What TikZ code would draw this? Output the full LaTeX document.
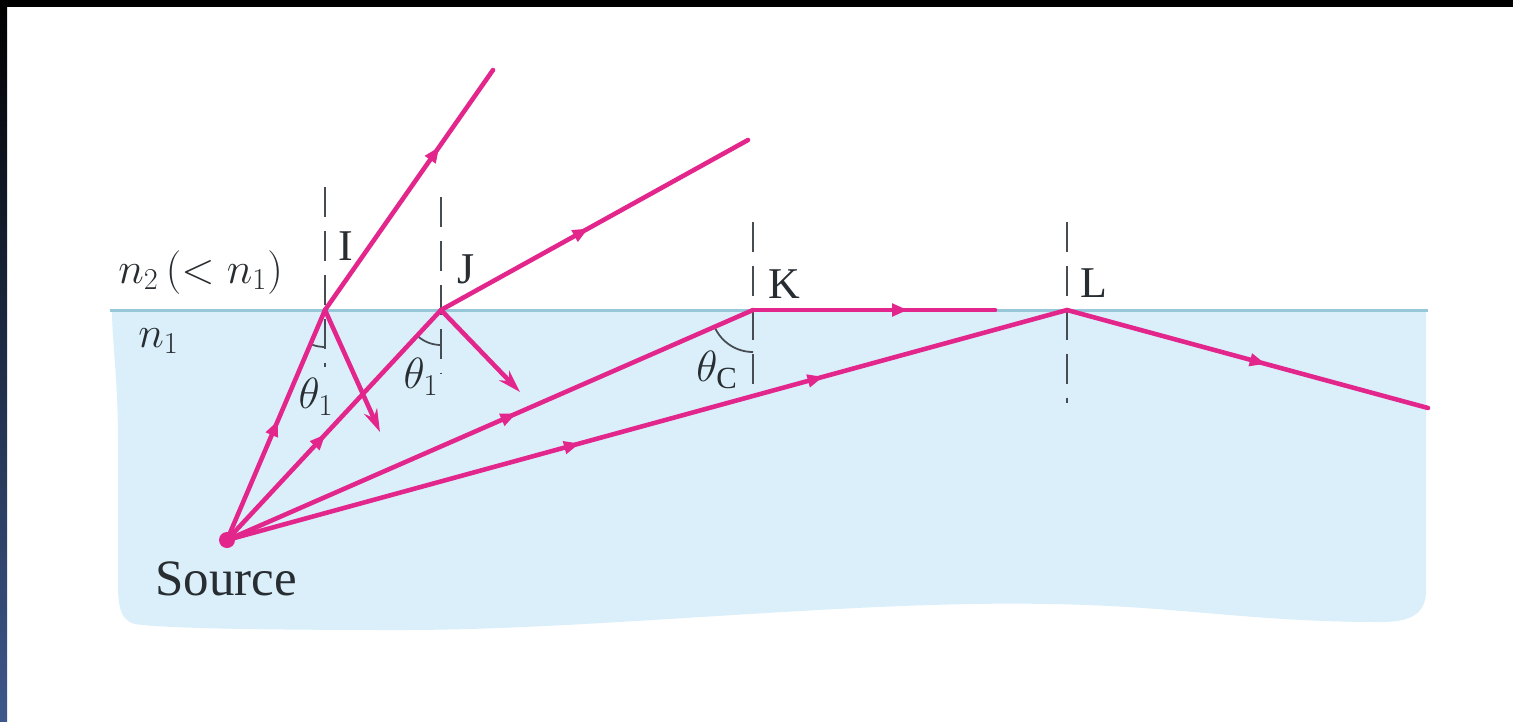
\documentclass[tikz,border=0pt]{standalone}
\usepackage{fontspec}
\setmainfont{Liberation Serif}
\newfontfamily\lblfont{Liberation Serif}
\usetikzlibrary{arrows.meta,decorations.markings,positioning}
\definecolor{raypink}{RGB}{226,38,140}
\definecolor{water}{RGB}{218,239,250}
\definecolor{surf}{RGB}{150,200,218}
\definecolor{normgray}{RGB}{70,76,82}
\definecolor{inkgray}{RGB}{40,45,50}
\definecolor{edgeblue}{RGB}{62,88,140}

\begin{document}
\begin{tikzpicture}[
        x=0.02cm, y=-0.02cm,
        every node/.style={font=\lblfont\fontsize{25}{30}\selectfont, text=inkgray, inner sep=0pt},
        ray/.style={draw=raypink, line width=2.6pt, line cap=round},
        mid/.style={postaction={decorate, decoration={markings,
            mark=at position #1 with {\arrow{Triangle[length=9pt,width=7pt]}}}}},
        tip/.style={-{Stealth[length=13pt,width=8pt]}},
        normal/.style={draw=normgray, line width=1.3pt, dash pattern=on 17pt off 8pt},
        anglemark/.style={draw=normgray, line width=1pt}
    ]
    \useasboundingbox (0,0) rectangle (1513,721);
    \fill[white] (0,0) rectangle (1513,721);
    \fill[black] (0,0) rectangle (1513,7);
    \shade[top color=black, bottom color=edgeblue] (0,0) rectangle (7,721);

    \fill[water] (112,310) -- (1426,310) -- (1426,585)
        .. controls (1428,615) and (1410,622) .. (1380,622)
        .. controls (1250,622) and (1180,606) .. (1050,604)
        .. controls (850,600) and (600,630) .. (400,630)
        .. controls (250,630) and (160,628) .. (135,624)
        .. controls (118,620) and (118,600) .. (118,580) -- (118,440)
        .. controls (118,380) and (112,340) .. (112,310) -- cycle;

    \coordinate (sl) at (110,310);
    \coordinate (sr) at (1428,310);
    \draw[surf, line width=1.7pt] (sl) -- (sr);

    \coordinate (src) at (227,540);
    \coordinate (I) at (325,310);
    \coordinate (J) at (441,310);
    \coordinate (K) at (753,310);
    \coordinate (L) at (1067,310);
    \coordinate (Iout) at (493,70);
    \coordinate (Jout) at (748,140);
    \coordinate (Kout) at (995,310);
    \coordinate (Lout) at (1428,408);
    \coordinate (Iref) at (380,432);
    \coordinate (Jref) at (520,392);

    \draw[normal] (325,187) -- (325,367);
    \draw[normal] (441,197) -- (441,373);
    \draw[normal] (753,222) -- (753,395);
    \draw[normal] (1067,222) -- (1067,403);

    \draw[anglemark] (I) ++(90:37) arc[start angle=90, end angle=113, radius=37];
    \draw[anglemark] (J) ++(90:35) arc[start angle=90, end angle=133, radius=35];
    \draw[anglemark] (K) ++(90:42) arc[start angle=90, end angle=156, radius=42];

    \draw[ray, mid=0.52] (src) -- (I);
    \draw[ray, mid=0.68] (I) -- (Iout);
    \draw[ray, tip] (I) -- (Iref);
    \draw[ray, mid=0.46] (src) -- (J);
    \draw[ray, mid=0.48] (J) -- (Jout);
    \draw[ray, tip] (J) -- (Jref);
    \draw[ray, mid=0.55] (src) -- (K);
    \draw[ray, mid=0.64] (K) -- (Kout);
    \draw[ray, mid=0.42, mid=0.71] (src) -- (L);
    \draw[ray, mid=0.55] (L) -- (Lout);
    \fill[raypink] (src) circle[radius=8];

    \node[anchor=base west] (labI) at (338,260) {I};
    \node[anchor=base west] (labJ) at (457,283) {J};
    \node[anchor=base west] (labK) at (768,298) {K};
    \node[anchor=base west] (labL) at (1080,297) {L};
    \node[anchor=base west] (n2) at (118,283) {$n_2\,(<n_1)$};
    \node[anchor=base west] (n1) at (138,347) {$n_1$};
    \node (thI) at (316,397) {$\theta_1$};
    \node (thJ) at (421,377) {$\theta_1$};
    \node (thC) at (717,370) {$\theta_{\mathrm{C}}$};
    \node[anchor=base west, font=\lblfont\fontsize{29}{34}\selectfont] (srclab) at (155,595) {Source};
\end{tikzpicture}
\end{document}
